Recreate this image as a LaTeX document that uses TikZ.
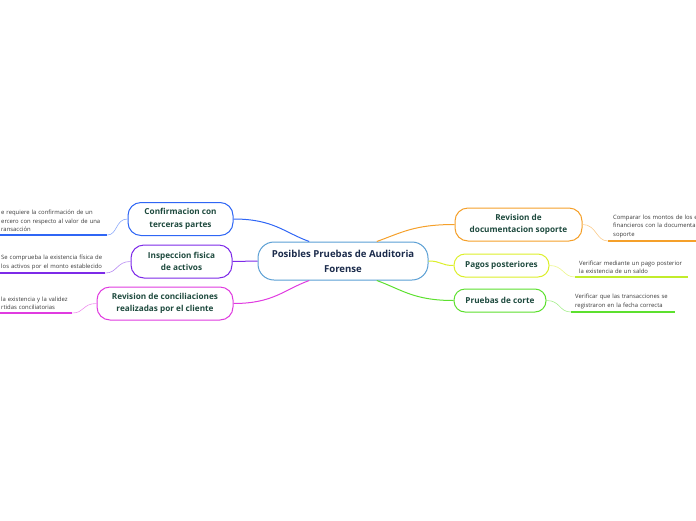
\documentclass[tikz,border=0pt]{standalone}
\usepackage{fontspec}
\setmainfont{Open Sans}
\usepackage{xcolor}
\usetikzlibrary{positioning}

\definecolor{rootline}{HTML}{5A9FD4}
\definecolor{roottext}{HTML}{1B2B4B}
\definecolor{topictext}{HTML}{1E4A3E}
\definecolor{leaftext}{HTML}{3A3A3A}
\definecolor{cblue}{HTML}{2F66F5}
\definecolor{cpurple}{HTML}{7D2AE8}
\definecolor{cmagenta}{HTML}{E03BE0}
\definecolor{corange}{HTML}{F5A02A}
\definecolor{cyellow}{HTML}{DCEF2A}
\definecolor{cgreen}{HTML}{5CE02E}

\tikzset{
    root/.style={draw=rootline, line width=1pt, fill=white, rounded corners=16pt,
        minimum width=170pt, minimum height=38pt, align=center, text=roottext,
        font=\fontsize{9.6}{15}\selectfont\bfseries},
    topic/.style={draw=#1, line width=1pt, fill=white, rounded corners=13pt,
        minimum height=33pt, align=center, text=topictext, inner sep=0pt,
        font=\fontsize{8.2}{12.5}\selectfont\bfseries},
    leaf/.style={align=left, text=leaftext, inner ysep=3pt,
        font=\fontsize{5.9}{8.6}\selectfont},
    branch/.style={draw=#1, line width=1pt},
    twig/.style={draw=#1!55, line width=0.6pt},
    underline/.style={draw=#1, line width=1.6pt}
}

\begin{document}
\hyphenpenalty=10000
\exhyphenpenalty=10000
\begin{tikzpicture}[x=1pt, y=-1pt]
    \useasboundingbox (0,0) rectangle (696,520);
    \clip (0,0) rectangle (696,520);

    % central topic
    \node[root] (main) at (343,261) {Posibles Pruebas de Auditoria\\Forense};

    % left side
    \node[topic=cblue, minimum width=105pt] (confirm) at (180.5,219) {Confirmacion con\\terceras partes};
    \node[topic=cpurple, minimum width=101pt] (inspect) at (181.5,261.5) {Inspeccion fisica\\de activos};
    \node[topic=cmagenta, minimum width=136pt] (concil) at (165,303.5) {Revision de conciliaciones\\realizadas por el cliente};

    % right side
    \node[topic=corange, minimum width=127pt] (docs) at (518.5,224.5) {Revision de\\documentacion soporte};
    \node[topic=cyellow, minimum width=95pt, minimum height=23pt, rounded corners=11pt] (pagos) at (501.5,265.5) {Pagos posteriores};
    \node[topic=cgreen, minimum width=92pt, minimum height=23pt, rounded corners=11pt] (corte) at (500,300.5) {Pruebas de corte};

    % leaves
    \node[leaf, anchor=south west, inner xsep=1pt, text width=105pt] (confirmtxt) at (0,235)
        {e requiere la confirmación de un\\ercero con respecto al valor de una\\ransacción};
    \node[leaf, anchor=south west, inner xsep=1pt, text width=103pt] (inspecttxt) at (0,273)
        {Se comprueba la existencia física de\\los activos por el monto establecido};
    \node[leaf, anchor=south west, inner xsep=1pt, text width=70pt] (conciltxt) at (0,313)
        {la existencia y la validez\\rtidas conciliatorias};
    \node[leaf, anchor=south west, inner xsep=5pt, text width=100pt] (docstxt) at (608,241)
        {Comparar los montos de los e\\financieros con la documenta\\soporte};
    \node[leaf, anchor=south west, inner xsep=4pt, text width=105pt] (pagostxt) at (575,277)
        {Verificar mediante un pago posterior\\la existencia de un saldo};
    \node[leaf, anchor=south west, inner xsep=4pt, text width=96pt] (cortetxt) at (571,312)
        {Verificar que las transacciones se\\registraron en la fecha correcta};

    % branches from the central topic
    \path[branch=cblue] (confirm.east) .. controls +(40,0) and +(-25,-9) .. (main.150);
    \path[branch=cpurple] (inspect.east) -- (main.west);
    \path[branch=cmagenta] (concil.east) .. controls +(40,0) and +(-25,9) .. (main.210);
    \path[branch=corange] (main.30) .. controls +(25,-9) and +(-40,0) .. (docs.west);
    \path[branch=cyellow] (main.east) .. controls +(13,0) and +(-13,0) .. (pagos.west);
    \path[branch=cgreen] (main.-30) .. controls +(25,9) and +(-40,0) .. (corte.west);

    % twigs and underlines
    \path[twig=cblue] (confirm.west) .. controls +(-12,0) and +(10,0) .. (confirmtxt.south east);
    \path[underline=cblue] (confirmtxt.south west) -- (confirmtxt.south east);
    \path[twig=cpurple] (inspect.west) .. controls +(-14,0) and +(12,0) .. (inspecttxt.south east);
    \path[underline=cpurple] (inspecttxt.south west) -- (inspecttxt.south east);
    \path[twig=cmagenta] (concil.west) .. controls +(-14,0) and +(12,0) .. (conciltxt.south east);
    \path[underline=cmagenta] (conciltxt.south west) -- (conciltxt.south east);
    \path[twig=corange] (docs.east) .. controls +(14,0) and +(-12,0) .. (docstxt.south west);
    \path[underline=corange] (docstxt.south west) -- (docstxt.south east);
    \path[twig=cyellow] (pagos.east) .. controls +(14,0) and +(-12,0) .. (pagostxt.south west);
    \path[underline=cyellow!80!cgreen] (pagostxt.south west) -- (pagostxt.south east);
    \path[twig=cgreen] (corte.east) .. controls +(14,0) and +(-12,0) .. (cortetxt.south west);
    \path[underline=cgreen] (cortetxt.south west) -- (cortetxt.south east);
\end{tikzpicture}
\end{document}
